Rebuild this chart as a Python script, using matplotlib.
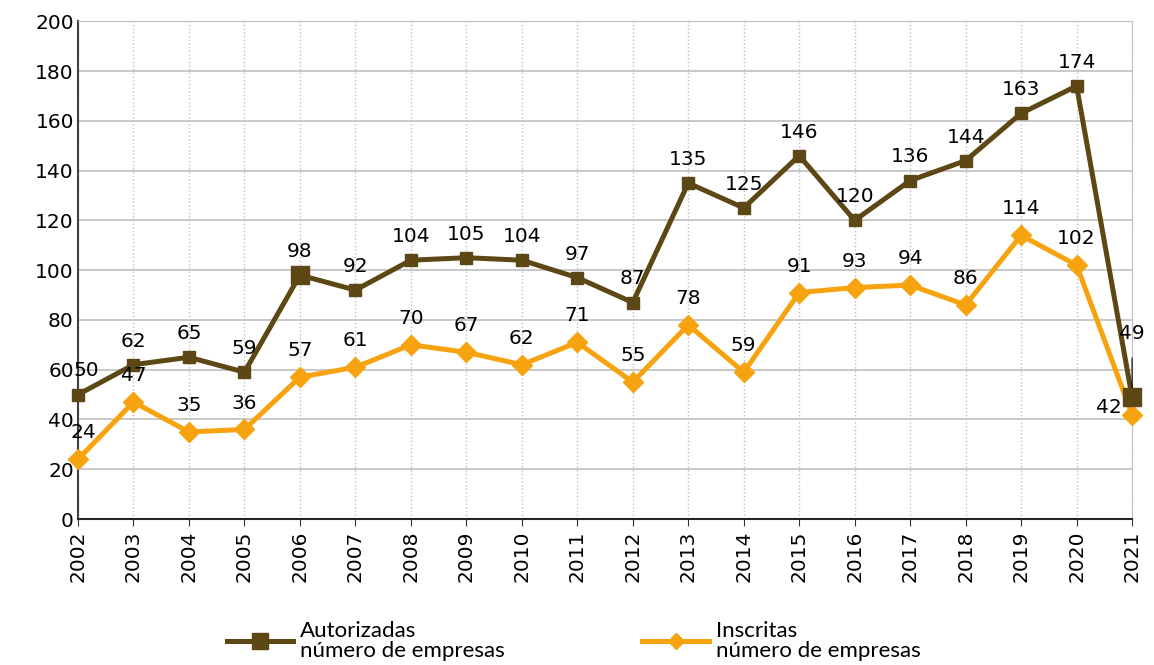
import numpy as np
import matplotlib.pyplot as plt
from matplotlib.lines import Line2D

# data
years = [str(y) for y in range(2002, 2022)]
autorizadas = [50, 62, 65, 59, 98, 92, 104, 105, 104, 97, 87, 135, 125, 146, 120, 136, 144, 163, 174, 49]
inscritas = [24, 47, 35, 36, 57, 61, 70, 67, 62, 71, 55, 78, 59, 91, 93, 94, 86, 114, 102, 42]

c_aut = '#5C4715'
c_ins = '#F7A30F'
fs = 14.5

fig = plt.figure(figsize=(11.54, 6.65), dpi=100)
ax = fig.add_axes([0.0676, 0.2195, 0.9134, 0.7485])

x = np.arange(len(years))

ax.plot(x, autorizadas, color=c_aut, lw=3.6, marker='s', ms=8, zorder=3, clip_on=False)
# bigger markers on 2006 and 2021
for i in (4, 19):
    ax.plot(x[i], autorizadas[i], marker='s', ms=13, color=c_aut, zorder=4, clip_on=False)
ax.plot(x, inscritas, color=c_ins, lw=3.6, marker='D', ms=10.5, zorder=3, clip_on=False)

# labels
for i, v in enumerate(autorizadas):
    if i == 19:
        ax.annotate(str(v), (x[i], v), xytext=(0, 46), textcoords='offset points',
                    ha='center', va='center', fontsize=fs,
                    arrowprops=dict(arrowstyle='-', color='black', lw=0.8, shrinkA=9, shrinkB=6))
    else:
        dx = 6 if i == 0 else 0
        ax.annotate(str(v), (x[i], v), xytext=(dx, 17), textcoords='offset points',
                    ha='center', va='center', fontsize=fs)
for i, v in enumerate(inscritas):
    if i == 19:
        ax.annotate(str(v), (x[i], v), xytext=(-17, 5), textcoords='offset points',
                    ha='center', va='center', fontsize=fs)
    else:
        dx = 4 if i == 0 else 0
        ax.annotate(str(v), (x[i], v), xytext=(dx, 19), textcoords='offset points',
                    ha='center', va='center', fontsize=fs)

ax.set_xlim(0, len(years) - 1)
ax.set_ylim(0, 200)
ax.set_yticks(range(0, 201, 20))
ax.set_xticks(x)
ax.set_xticklabels(years, rotation=90)
ax.tick_params(labelsize=fs, length=0, pad=3)
ax.tick_params(axis='x', length=5, color='#333333')

ax.grid(axis='y', color='#BFBFBF', lw=1.2, ls='-')
ax.grid(axis='x', color='#BFBFBF', lw=1, ls=':')
ax.set_axisbelow(True)
ax.spines['left'].set_color('#404040')
ax.spines['left'].set_linewidth(1.5)
ax.spines['bottom'].set_color('#262626')
ax.spines['bottom'].set_linewidth(1.5)
ax.spines['top'].set_color('#BFBFBF')
ax.spines['right'].set_color('#BFBFBF')

handles = [
    Line2D([], [], color=c_aut, lw=3.6, marker='s', ms=11),
    Line2D([], [], color=c_ins, lw=3.6, marker='D', ms=8),
]
labels = ['Autorizadas\nnúmero de empresas', 'Inscritas\nnúmero de empresas']
leg = fig.legend(handles, labels, loc='center', bbox_to_anchor=(0.497, 0.036), ncol=2,
                 frameon=False, handlelength=3.0, handletextpad=0.3, columnspacing=6.2,
                 prop={'family': 'Lato', 'size': 16})
for t in leg.get_texts():
    t.set_linespacing(0.95)

fig.savefig('out.png', dpi=100)
